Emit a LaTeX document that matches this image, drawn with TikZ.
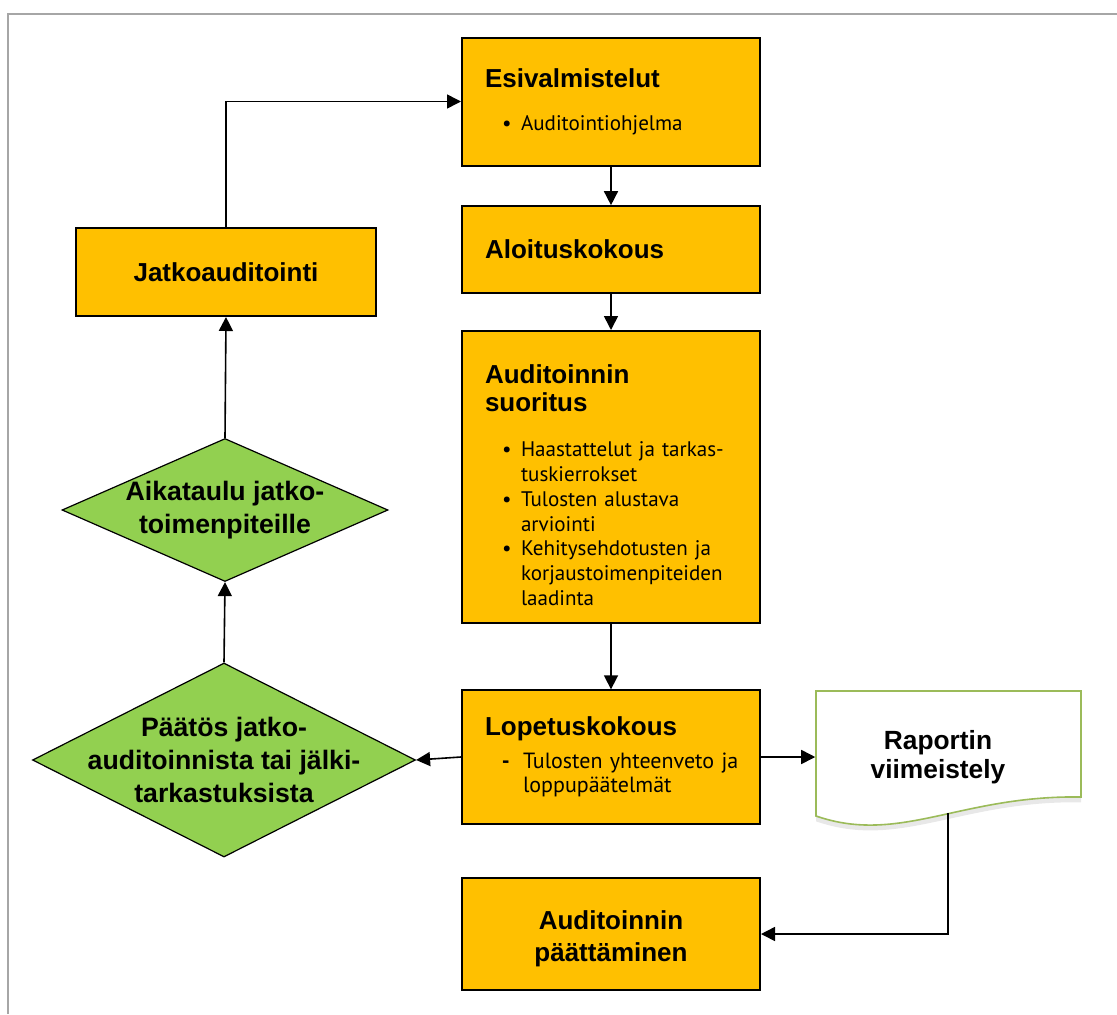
\documentclass[tikz,border=0pt]{standalone}
\usepackage{fontspec}
\setmainfont{Liberation Sans}
\newfontfamily\notefont{PT Sans}
\usetikzlibrary{arrows.meta, positioning, shapes.geometric, shadows}

\definecolor{stageorange}{HTML}{FFC000}
\definecolor{decisiongreen}{HTML}{92D050}
\definecolor{docgreen}{HTML}{9BBB59}
\definecolor{framegray}{HTML}{A6A6A6}

% title lines and list items inside the stage boxes
\newcommand{\ttl}[1]{{\rmfamily\fontsize{19.5}{22}\selectfont\bfseries #1}}
\newcommand{\bul}{\hspace*{27pt}\llap{\textbullet\hspace{7pt}}}
\newcommand{\ind}{\hspace*{27pt}}
\newcommand{\dsh}{\hspace*{28.5pt}\llap{\textbf{-}\hspace{10pt}}}
\newcommand{\dind}{\hspace*{28.5pt}}

\tikzset{
  stage/.style={draw=black, line width=1.5pt, fill=stageorange, minimum width=223.5pt,
    text width=189pt, align=left, inner sep=0pt, font=\notefont\fontsize{15.8}{18.6}\selectfont},
  stagec/.style={stage, align=center, font=\bfseries\fontsize{19.5}{24}\selectfont},
  decision/.style={diamond, draw=black, line width=0.9pt, fill=decisiongreen, inner sep=0pt},
  dtext/.style={align=center, font=\bfseries\fontsize{20}{24.5}\selectfont},
  flow/.style={-{Triangle[length=10.5pt, width=10.5pt]}, line width=1.2pt},
}

\begin{document}
\begin{tikzpicture}[x=0.75pt, y=-0.75pt]
  \useasboundingbox (0,0) rectangle (1117,1014);
  \draw[framegray, line width=1.5pt] (8,1014) -- (8,14) -- (1117,14);

  % main column
  \node[stage, minimum height=96pt] (esi) at (611,101.5)
    {\ttl{Esivalmistelut}\\[13.5pt]\bul Auditointiohjelma};
  \node[stage, minimum height=65pt] (alo) at (611,249.5) {\ttl{Aloituskokous}};
  \node[stage, minimum height=219pt] (suor) at (611,477)
    {\rule{0pt}{26pt}\ttl{Auditoinnin}\\[3pt]\ttl{suoritus}\\[15pt]%
     \bul Haastattelut ja tarkas-\\\ind tuskierrokset\\%
     \bul Tulosten alustava\\\ind arviointi\\%
     \bul Kehitysehdotusten ja\\\ind korjaustoimenpiteiden\\\ind laadinta};
  \node[stage, minimum height=100pt, font=\notefont\fontsize{16.5}{18}\selectfont] (lop) at (611,757)
    {\ttl{Lopetuskokous}\\[7pt]\dsh\mbox{Tulosten yhteenveto ja}\\\dind loppupäätelmät};
  \node[stagec, minimum height=84pt] (paat) at (611,934)
    {\rule{0pt}{21pt}Auditoinnin\\päättäminen};

  % left column
  \node[stagec, minimum width=225pt, minimum height=66pt] (jatko) at (226,272) {Jatkoauditointi};
  \node[decision, minimum width=244.5pt, minimum height=107.25pt] (aik) at (225,510) {};
  \node[dtext] (aik-t) at (aik) {Aikataulu jatko-\\toimenpiteille};
  \node[decision, minimum width=287.25pt, minimum height=145.5pt] (pat) at (224,760) {};
  \node[dtext] (pat-t) at (pat) {Päätös jatko-\\auditoinnista tai jälki-\\tarkastuksista};

  % report (document shape)
  \draw[docgreen, line width=1.2pt, fill=white,
    drop shadow={opacity=0.18, shadow xshift=0pt, shadow yshift=-4pt}]
    (816,691) -- (1081,691) -- (1081,797)
    .. controls (960,795) and (900,845) .. (816,816) -- cycle;
  \node[minimum width=199.5pt, minimum height=99pt, inner sep=0pt] (rap) at (948.5,757) {};
  \node[align=center, font=\bfseries\fontsize{19.75}{21.75}\selectfont] (rap-t) at (938,757)
    {Raportin\\viimeistely};
  \coordinate (rapout) at (948,813);

  % connectors
  \draw[flow] (esi) -- (alo);
  \draw[flow] (alo) -- (suor);
  \draw[flow] (suor) -- (lop);
  \draw[flow] (lop.west) -- (pat.east);
  \draw[flow] (lop.east) -- (rap.west);
  \draw[flow] (rapout) |- (paat.east);
  \draw[flow] (pat.north) -- (aik.south);
  \draw[flow] (aik.north) -- (jatko.south);
  \draw[flow] (jatko.north) |- (esi.west);
\end{tikzpicture}
\end{document}
